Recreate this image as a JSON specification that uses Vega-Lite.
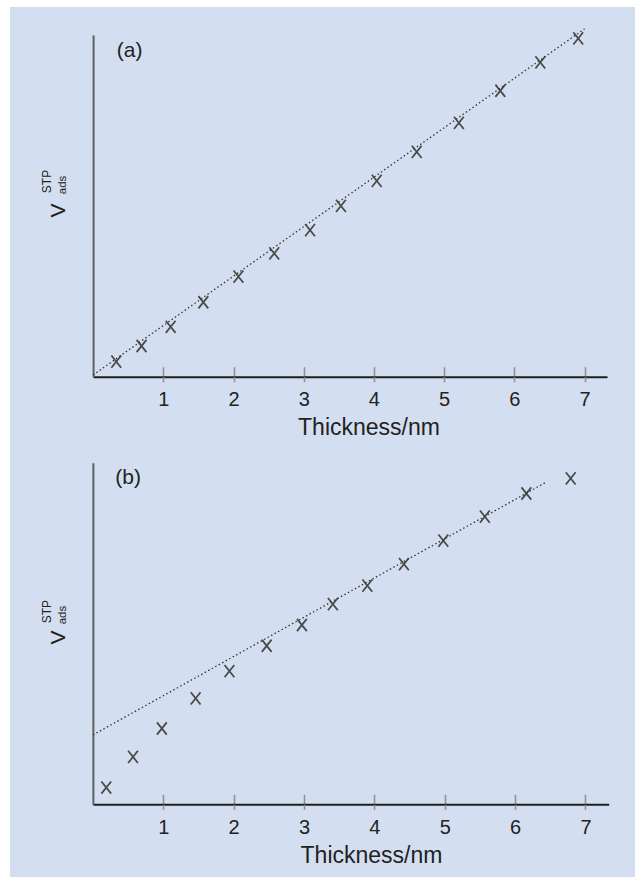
{
  "$schema": "https://vega.github.io/schema/vega-lite/v6.json",
  "width": 625,
  "height": 870,
  "autosize": {"type": "none"},
  "padding": {"left": 10, "top": 7, "right": 4, "bottom": 0},
  "background": "white",
  "config": {"view": {"fill": "#d3dff0", "stroke": null}, "font": "Liberation Sans", "axis": {"grid": false}},
  "datasets": {
    "measured": [
      {"panel": "a", "thickness": 0.33, "v": 4.4},
      {"panel": "a", "thickness": 0.69, "v": 9.0},
      {"panel": "a", "thickness": 1.105, "v": 14.6},
      {"panel": "a", "thickness": 1.57, "v": 21.8},
      {"panel": "a", "thickness": 2.07, "v": 29.3},
      {"panel": "a", "thickness": 2.58, "v": 36.1},
      {"panel": "a", "thickness": 3.09, "v": 42.9},
      {"panel": "a", "thickness": 3.53, "v": 50.0},
      {"panel": "a", "thickness": 4.04, "v": 57.3},
      {"panel": "a", "thickness": 4.61, "v": 65.8},
      {"panel": "a", "thickness": 5.21, "v": 74.3},
      {"panel": "a", "thickness": 5.80, "v": 83.7},
      {"panel": "a", "thickness": 6.37, "v": 92.0},
      {"panel": "a", "thickness": 6.91, "v": 99.0},
      {"panel": "b", "thickness": 0.19, "v": 4.9},
      {"panel": "b", "thickness": 0.57, "v": 13.9},
      {"panel": "b", "thickness": 0.98, "v": 22.2},
      {"panel": "b", "thickness": 1.46, "v": 31.0},
      {"panel": "b", "thickness": 1.94, "v": 39.0},
      {"panel": "b", "thickness": 2.47, "v": 46.4},
      {"panel": "b", "thickness": 2.97, "v": 52.5},
      {"panel": "b", "thickness": 3.41, "v": 58.6},
      {"panel": "b", "thickness": 3.90, "v": 64.0},
      {"panel": "b", "thickness": 4.42, "v": 70.3},
      {"panel": "b", "thickness": 4.98, "v": 77.2},
      {"panel": "b", "thickness": 5.57, "v": 84.2},
      {"panel": "b", "thickness": 6.16, "v": 91.0},
      {"panel": "b", "thickness": 6.79, "v": 95.4}
    ],
    "fit": [
      {"panel": "a", "thickness": 0.0, "v": 0.5},
      {"panel": "a", "thickness": 7.0, "v": 101.8},
      {"panel": "b", "thickness": 0.0, "v": 20.3},
      {"panel": "b", "thickness": 6.45, "v": 94.4}
    ]
  },
  "resolve": {"scale": {"x": "independent", "y": "independent"}, "axis": {"x": "independent", "y": "independent"}},
  "layer": [
    {
      "resolve": {"axis": {"x": "independent"}},
      "layer": [
        {
          "data": {"name": "measured"},
          "transform": [{"filter": "datum.panel === 'a'"}],
          "mark": {"type": "point", "shape": "M-0.8,-1L0.8,1M-0.8,1L0.8,-1", "filled": false, "stroke": "#4a4a4a", "strokeWidth": 1.8, "size": 150, "opacity": 1},
          "encoding": {
            "x": {"field": "thickness", "type": "quantitative",
              "scale": {"domain": [0, 7.32], "range": [83.1, 597], "nice": false, "zero": false},
              "axis": {"orient": "bottom", "offset": -500.3, "values": [1, 2, 3, 4, 5, 6, 7], "format": "d", "domain": true, "domainColor": "#1e1e1e", "domainWidth": 2, "ticks": true, "tickSize": -10, "tickColor": "#8c939c", "tickWidth": 1.6, "labelFontSize": 20, "labelColor": "#222222", "labelPadding": 39, "labelBaseline": "alphabetic", "labelFlush": false, "labelOverlap": false, "title": "Thickness/nm", "titleFontSize": 23, "titleFontWeight": "normal", "titleColor": "#222222", "titleX": 358.5, "titleY": 58, "titleAlign": "center", "titleBaseline": "alphabetic", "titleAngle": 0}},
            "y": {"field": "v", "type": "quantitative",
              "scale": {"domain": [0, 100], "range": [369.7, 28], "nice": false, "zero": false},
              "axis": {"orient": "left", "offset": -83.1, "domain": true, "domainColor": "#606060", "domainWidth": 2, "ticks": false, "labels": false, "grid": false, "title": "V", "titleFontSize": 21, "titleFontWeight": "normal", "titleColor": "#222222", "titleAngle": 270, "titleAlign": "left", "titleBaseline": "alphabetic", "titleX": -28.5, "titleY": 210}}
          }
        },
        {
          "data": {"name": "fit"},
          "transform": [{"filter": "datum.panel === 'a'"}],
          "mark": {"type": "line", "stroke": "#333333", "strokeWidth": 1.3, "strokeDash": [1.5, 2.5]},
          "encoding": {
            "x": {"field": "thickness", "type": "quantitative",
              "axis": {"orient": "bottom", "offset": -500.3, "values": [1, 2, 3, 4, 5, 6, 7], "domain": false, "ticks": true, "tickSize": 5, "tickColor": "#8c939c", "tickWidth": 1.6, "labels": false, "title": null}},
            "y": {"field": "v", "type": "quantitative"}
          }
        },
        {
          "data": {"values": [{"label": "(a)"}]},
          "mark": {"type": "text", "fontSize": 21, "align": "center", "baseline": "middle", "color": "#222222"},
          "encoding": {
            "x": {"datum": 0.52, "type": "quantitative", "axis": null},
            "y": {"datum": 95.4, "type": "quantitative"},
            "text": {"field": "label"}
          }
        },
        {
          "data": {"values": [{"label": "STP"}]},
          "mark": {"type": "text", "fontSize": 12, "angle": 270, "align": "left", "baseline": "alphabetic", "color": "#222222"},
          "encoding": {
            "x": {"datum": -0.6, "type": "quantitative", "axis": null},
            "y": {"datum": 53.7, "type": "quantitative"},
            "text": {"field": "label"}
          }
        },
        {
          "data": {"values": [{"label": "ads"}]},
          "mark": {"type": "text", "fontSize": 11.5, "angle": 270, "align": "left", "baseline": "alphabetic", "color": "#222222"},
          "encoding": {
            "x": {"datum": -0.39, "type": "quantitative", "axis": null},
            "y": {"datum": 53.4, "type": "quantitative"},
            "text": {"field": "label"}
          }
        }
      ]
    },
    {
      "resolve": {"axis": {"x": "independent"}},
      "layer": [
        {
          "data": {"name": "measured"},
          "transform": [{"filter": "datum.panel === 'b'"}],
          "mark": {"type": "point", "shape": "M-0.8,-1L0.8,1M-0.8,1L0.8,-1", "filled": false, "stroke": "#4a4a4a", "strokeWidth": 1.8, "size": 150, "opacity": 1},
          "encoding": {
            "x": {"field": "thickness", "type": "quantitative",
              "scale": {"domain": [0, 7.33], "range": [82.9, 598.7], "nice": false, "zero": false},
              "axis": {"orient": "bottom", "offset": -72.7, "values": [1, 2, 3, 4, 5, 6, 7], "format": "d", "domain": true, "domainColor": "#1e1e1e", "domainWidth": 2, "ticks": true, "tickSize": -10, "tickColor": "#8c939c", "tickWidth": 1.6, "labelFontSize": 20, "labelColor": "#222222", "labelPadding": 39, "labelBaseline": "alphabetic", "labelFlush": false, "labelOverlap": false, "title": "Thickness/nm", "titleFontSize": 23, "titleFontWeight": "normal", "titleColor": "#222222", "titleX": 361, "titleY": 58, "titleAlign": "center", "titleBaseline": "alphabetic", "titleAngle": 0}},
            "y": {"field": "v", "type": "quantitative",
              "scale": {"domain": [0, 100], "range": [797.3, 455.7], "nice": false, "zero": false},
              "axis": {"orient": "left", "offset": -82.9, "domain": true, "domainColor": "#606060", "domainWidth": 2, "ticks": false, "labels": false, "grid": false, "title": "V", "titleFontSize": 21, "titleFontWeight": "normal", "titleColor": "#222222", "titleAngle": 270, "titleAlign": "left", "titleBaseline": "alphabetic", "titleX": -28.5, "titleY": 637}}
          }
        },
        {
          "data": {"name": "fit"},
          "transform": [{"filter": "datum.panel === 'b'"}],
          "mark": {"type": "line", "stroke": "#333333", "strokeWidth": 1.3, "strokeDash": [1.5, 2.5]},
          "encoding": {
            "x": {"field": "thickness", "type": "quantitative",
              "axis": {"orient": "bottom", "offset": -72.7, "values": [1, 2, 3, 4, 5, 6, 7], "domain": false, "ticks": true, "tickSize": 5, "tickColor": "#8c939c", "tickWidth": 1.6, "labels": false, "title": null}},
            "y": {"field": "v", "type": "quantitative"}
          }
        },
        {
          "data": {"values": [{"label": "(b)"}]},
          "mark": {"type": "text", "fontSize": 21, "align": "center", "baseline": "middle", "color": "#222222"},
          "encoding": {
            "x": {"datum": 0.5, "type": "quantitative", "axis": null},
            "y": {"datum": 95.5, "type": "quantitative"},
            "text": {"field": "label"}
          }
        },
        {
          "data": {"values": [{"label": "STP"}]},
          "mark": {"type": "text", "fontSize": 12, "angle": 270, "align": "left", "baseline": "alphabetic", "color": "#222222"},
          "encoding": {
            "x": {"datum": -0.595, "type": "quantitative", "axis": null},
            "y": {"datum": 53.0, "type": "quantitative"},
            "text": {"field": "label"}
          }
        },
        {
          "data": {"values": [{"label": "ads"}]},
          "mark": {"type": "text", "fontSize": 11.5, "angle": 270, "align": "left", "baseline": "alphabetic", "color": "#222222"},
          "encoding": {
            "x": {"datum": -0.386, "type": "quantitative", "axis": null},
            "y": {"datum": 52.7, "type": "quantitative"},
            "text": {"field": "label"}
          }
        }
      ]
    }
  ]
}
